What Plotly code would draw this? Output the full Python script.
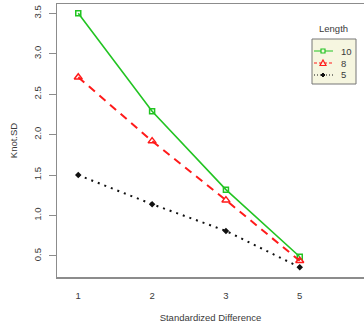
import plotly.graph_objects as go

# ---- data ----
categories = ["1", "2", "3", "5"]          # Standardized Difference levels
series_names = ["10", "8", "5"]            # Length
legend_title = "Length"
values_10 = [3.50, 2.29, 1.32, 0.49]
values_8 = [2.71, 1.92, 1.19, 0.44]
values_5 = [1.50, 1.14, 0.81, 0.36]
y_ticks = [0.5, 1.0, 1.5, 2.0, 2.5, 3.0, 3.5]

xpos = list(range(1, len(categories) + 1))

FONT = "Liberation Sans, Arial, sans-serif"
TXT = "#3a3a3a"
AX = "#8c8c8c"

# plot area in pixels (for legend placement)
L, R, T, B = 57, 364, 4, 277
W, H = R - L, B - T


def px(x):
    return (x - L) / W


def py(y):
    return (B - y) / H


GREEN, RED, BLACK = "#22c422", "#ff1a1a", "#111111"

fig = go.Figure()

styles = [
    (values_10, series_names[0], GREEN, "solid", 1.6,
     dict(symbol="square-open", size=5, line=dict(width=1.5, color=GREEN))),
    (values_8, series_names[1], RED, "8px,6px", 2.0,
     dict(symbol="triangle-up-open", size=7, line=dict(width=1.5, color=RED))),
    (values_5, series_names[2], BLACK, "2px,5px", 2.0,
     dict(symbol="diamond", size=5, color=BLACK)),
]
for vals, name, col, dash, w, mk in styles:
    fig.add_trace(go.Scatter(
        x=xpos, y=vals, name=name, mode="lines+markers",
        line=dict(color=col, dash=dash, width=w),
        marker=mk, showlegend=False, hoverinfo="skip",
    ))

# ---- manual legend (R style) ----
shapes = [dict(type="rect", xref="paper", yref="paper",
               x0=px(312), x1=px(356), y0=py(84), y1=py(39),
               fillcolor="#f6f6e0", line=dict(color="#777777", width=1),
               layer="above")]
annotations = []
row_y = [51, 63, 75]
leg_dash = ["solid", "3px,2px", "1px,2px"]
for i, (name, col) in enumerate(zip(series_names, [GREEN, RED, BLACK])):
    yy = row_y[i]
    shapes.append(dict(type="line", xref="paper", yref="paper",
                       x0=px(314), x1=px(333), y0=py(yy), y1=py(yy),
                       line=dict(color=col, width=1, dash=leg_dash[i]),
                       layer="above"))
    cx = 323
    if i == 0:
        shapes.append(dict(type="rect", xref="paper", yref="paper",
                           x0=px(cx - 2), x1=px(cx + 2),
                           y0=py(yy + 2), y1=py(yy - 2),
                           fillcolor="#f6f6e0", line=dict(color=col, width=1.2),
                           layer="above"))
    elif i == 1:
        path = (f"M {px(cx - 3)} {py(yy + 2.5)} L {px(cx + 3)} {py(yy + 2.5)} "
                f"L {px(cx)} {py(yy - 3)} Z")
        shapes.append(dict(type="path", xref="paper", yref="paper", path=path,
                           fillcolor="#f6f6e0", line=dict(color=col, width=1.2),
                           layer="above"))
    else:
        path = (f"M {px(cx - 2)} {py(yy)} L {px(cx)} {py(yy - 2)} "
                f"L {px(cx + 2)} {py(yy)} L {px(cx)} {py(yy + 2)} Z")
        shapes.append(dict(type="path", xref="paper", yref="paper", path=path,
                           fillcolor=col, line=dict(color=col, width=1),
                           layer="above"))
    annotations.append(dict(text=name, xref="paper", yref="paper",
                            x=px(339), y=py(yy), xanchor="left",
                            yanchor="middle", showarrow=False,
                            font=dict(size=9.5, color=TXT)))
annotations.append(dict(text=legend_title, xref="paper", yref="paper",
                        x=px(333), y=py(36), xanchor="center",
                        yanchor="bottom", showarrow=False,
                        font=dict(size=9.5, color=TXT)))

fig.update_layout(
    width=364, height=332,
    margin=dict(l=L, r=364 - R, t=T, b=332 - B),
    paper_bgcolor="white", plot_bgcolor="white",
    font=dict(family=FONT, size=9.5, color=TXT),
    showlegend=False,
    hovermode=False,
    xaxis=dict(
        range=[0.712, 4.87], autorange=False,
        tickmode="array", tickvals=xpos, ticktext=categories,
        ticks="", showgrid=False, zeroline=False,
        showline=True, linecolor=AX, linewidth=1.5, mirror=True,
        ticklabelstandoff=9,
        title=dict(text="Standardized Difference", standoff=14,
                   font=dict(size=9.5, color=TXT)),
    ),
    yaxis=dict(
        range=[0.24, 3.615], autorange=False,
        tickmode="array", tickvals=y_ticks,
        ticktext=[f"{v:.1f}" for v in y_ticks],
        ticks="outside", ticklen=7, tickcolor=AX, tickwidth=1,
        tickangle=-90, showgrid=False, zeroline=False,
        showline=True, linecolor=AX, linewidth=1.5, mirror=False,
        ticklabelstandoff=4,
        title=dict(text="Knot.SD", standoff=12,
                   font=dict(size=9.5, color=TXT)),
    ),
    shapes=shapes,
    annotations=annotations,
)

fig.write_html("out.html",
               config={"displayModeBar": False, "staticPlot": True},
               post_script="document.body.style.margin='0';"
                           "document.body.style.overflow='hidden';")
